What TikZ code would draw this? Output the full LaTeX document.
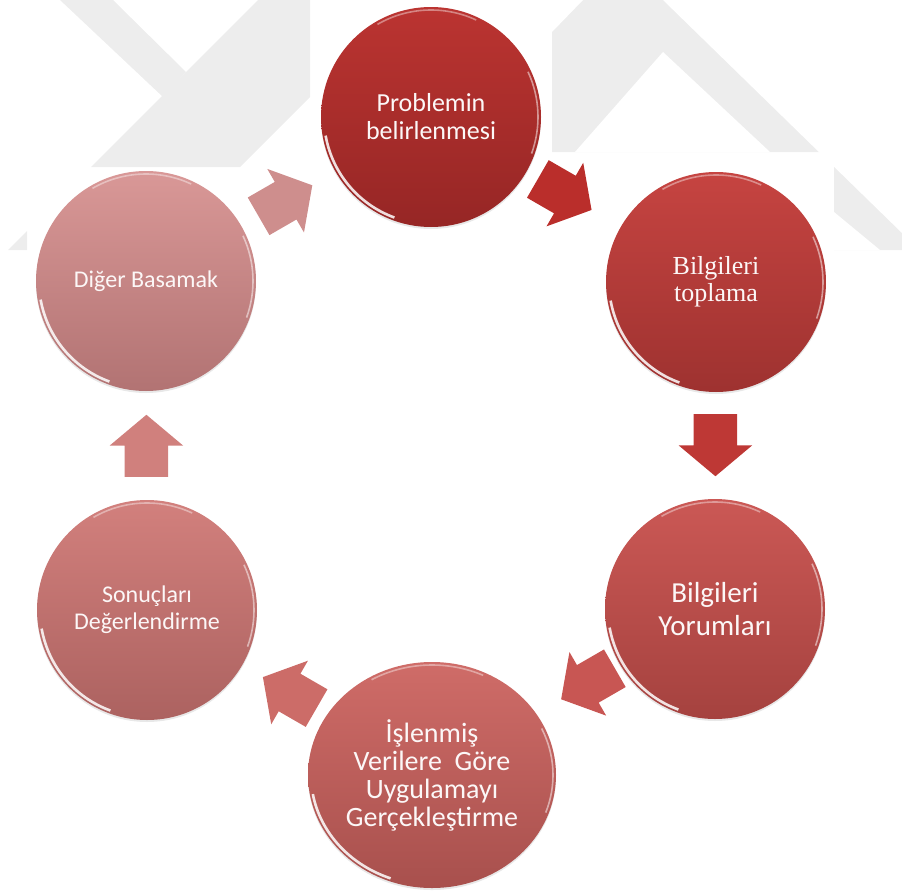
\documentclass[tikz,border=0pt]{standalone}
\usepackage{fontspec}
\setmainfont{Carlito}
\newfontfamily\timesfont{Liberation Serif}
\usetikzlibrary{shapes,shapes.arrows,shapes.geometric,calc,positioning,shadows}
\definecolor{wmark}{RGB}{237,237,237}
\definecolor{txtc}{RGB}{252,247,247}
\definecolor{prtop}{RGB}{187,52,49}   \definecolor{prbot}{RGB}{150,38,37}
\definecolor{tptop}{RGB}{198,68,65}   \definecolor{tpbot}{RGB}{158,50,48}
\definecolor{yrtop}{RGB}{203,88,85}   \definecolor{yrbot}{RGB}{165,66,63}
\definecolor{uytop}{RGB}{207,108,104} \definecolor{uybot}{RGB}{168,80,77}
\definecolor{sntop}{RGB}{210,128,125} \definecolor{snbot}{RGB}{172,98,96}
\definecolor{dgtop}{RGB}{217,152,151} \definecolor{dgbot}{RGB}{178,115,115}
\tikzset{
    stage/.style = {circle, minimum size=220pt, inner sep=0pt,
        align=center, text=txtc, draw=none,
        drop shadow={opacity=.18, shadow xshift=0pt, shadow yshift=-2pt}},
    tone/.style 2 args = {top color=#1, bottom color=#2},
    txt/.style 2 args = {font=\fontsize{#1}{#2}\selectfont},
    gloss/.style 2 args = {path picture={
        \draw[white, opacity=.85, line width=2.6pt]
            ([shift={(190:#1pt and #2pt)}]path picture bounding box.center)
            arc[start angle=190, end angle=250, x radius=#1pt, y radius=#2pt];
        \draw[white, opacity=.4, line width=1.6pt]
            ([shift={(65:#1pt and #2pt)}]path picture bounding box.center)
            arc[start angle=65, end angle=120, x radius=#1pt, y radius=#2pt];
        \draw[white, opacity=.5, line width=1.6pt]
            ([shift={(-20:#1pt and #2pt)}]path picture bounding box.center)
            arc[start angle=-20, end angle=25, x radius=#1pt, y radius=#2pt];}},
    flow/.style = {single arrow, draw=none, anchor=tip,
        inner xsep=0pt, inner ysep=21.5pt,
        minimum height=62pt, single arrow head extend=15pt,
        single arrow tip angle=100},
}

\begin{document}
\begin{tikzpicture}[x=1pt, y=1pt]
		\useasboundingbox (0,0) rectangle (902,-894);
		% watermark behind the diagram, left part
		\fill[wmark] (60,0) -- (113,0) -- (186,-72) -- (163,-97) -- cycle;
		\fill[wmark] (258,0) -- (91,-167) -- (240,-167) -- (255,-152)
			-- (310,-97) -- (310,0) -- cycle;
		\fill[wmark] (27,-231) -- (27,-250) -- (8,-250) -- cycle;
		% watermark, right part
		\fill[wmark] (552,0) rectangle (902,-152) (834,-152) rectangle (902,-250);
		\fill[white] (552,0) -- (583,0) -- (552,-32) -- cycle;
		\fill[white] (663,-52) -- (575,-152) -- (770,-152) -- cycle;
		\fill[white] (663,0) -- (902,0) -- (902,-233) -- cycle;
		\fill[white] (834,-212) -- (880,-250) -- (834,-250) -- cycle;
		
		% Problemin belirlenmesi
		\node [stage, tone={prtop}{prbot}, gloss={107}{107}, txt={26}{28}]
			(probl) at (431,-117) {Problemin\\belirlenmesi};
		% Bilgileri toplama
		\node [stage, tone={tptop}{tpbot}, gloss={107}{107},
			font=\timesfont\fontsize{26}{27}\selectfont] (toplama) at (716,-282) {Bilgileri\\toplama};
		% Bilgileri Yorumlari
		\node [stage, tone={yrtop}{yrbot}, gloss={107}{107}, txt={29}{33}]
			(yorum) at (715,-609) {Bilgileri\\Yorumları};
		% Uygulama
		\node [stage, ellipse, minimum width=248pt, minimum height=226pt,
			tone={uytop}{uybot}, gloss={121}{110}, txt={28}{28}] (uygula) at (432,-775)
			{İşlenmiş\\Verilere~~Göre\\Uygulamayı\\Gerçekleştirme};
		% Sonuclari Degerlendirme
		\node [stage, tone={sntop}{snbot}, gloss={107}{107}, txt={24}{27}]
			(sonuc) at (147,-610) {Sonuçları\\Değerlendirme};
		% Diger Basamak
		\node [stage, tone={dgtop}{dgbot}, gloss={107}{107}, txt={24}{27}]
			(diger) at (146,-281) {Diğer Basamak};
		
		% middle points between the steps
		\coordinate (m12) at ($(probl)!0.47!(toplama)$);
		\coordinate (m23) at ($(toplama)!0.5!(yorum)$);
		\coordinate (m34) at ($(yorum)!0.45!(uygula)$);
		\coordinate (m45) at ($(uygula)!0.5!(sonuc)$);
		\coordinate (m56) at ($(sonuc)!0.5!(diger)$);
		\coordinate (m61) at ($(diger)!0.49!(probl)$);
		
		% arrows between the steps
		\node [flow, fill={rgb,255:red,186;green,46;blue,43}, rotate=-30] (a12) at ($(m12)!31pt!(toplama)$) {};
		\node [flow, fill={rgb,255:red,190;green,56;blue,53}, rotate=-90] (a23) at ($(m23)!31pt!(yorum)$) {};
		\node [flow, fill={rgb,255:red,200;green,86;blue,83}, rotate=210] (a34) at ($(m34)!31pt!(uygula)$) {};
		\node [flow, fill={rgb,255:red,204;green,108;blue,104}, rotate=150] (a45) at ($(m45)!31pt!(sonuc)$) {};
		\node [flow, fill={rgb,255:red,208;green,128;blue,125}, rotate=90] (a56) at ($(m56)!31pt!(diger)$) {};
		\node [flow, fill={rgb,255:red,206;green,142;blue,141}, rotate=30] (a61) at ($(m61)!31pt!(probl)$) {};
	\end{tikzpicture}
\end{document}
